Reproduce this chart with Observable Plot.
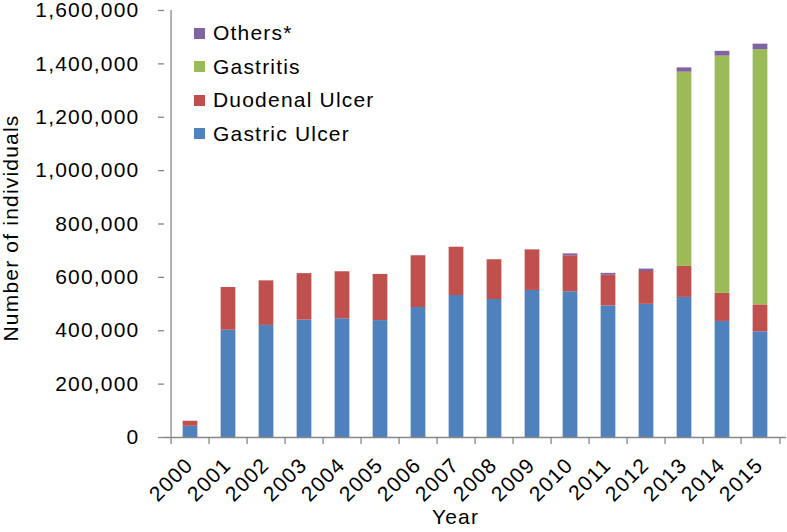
<!DOCTYPE html>
<html>
<head>
<meta charset="utf-8">
<script src="https://cdn.jsdelivr.net/npm/d3@7"></script>
<script src="https://cdn.jsdelivr.net/npm/@observablehq/plot@0.6"></script>
<style>
  body { margin: 0; background: #fff; }
  #wrap { position: relative; width: 787px; height: 532px; font-family: "Liberation Sans", Arial, sans-serif; }
  #wrap svg text { letter-spacing: 1.2px; }
  .legend { position: absolute; left: 194px; top: 0; }
  .item { position: absolute; left: 0; height: 24px; display: flex; align-items: center; white-space: nowrap;
          font-size: 21px; letter-spacing: 1.2px; color: #000; }
  .sw { width: 11px; height: 11px; margin-right: 8px; flex: none; }
</style>
</head>
<body>
<div id="wrap"></div>
<script>
// ---- data ----
const years = ["2000","2001","2002","2003","2004","2005","2006","2007","2008","2009","2010","2011","2012","2013","2014","2015"];
const seriesNames = ["Gastric Ulcer", "Duodenal Ulcer", "Gastritis", "Others*"];
const seriesColors = ["#4F81BD", "#C0504D", "#9BBB59", "#8064A2"];
const gastricUlcer  = [42000, 402000, 420000, 440000, 445000, 438000, 487000, 532000, 517000, 551000, 546000, 493000, 499000, 525000, 435000, 396000];
const duodenalUlcer = [19000, 160000, 167000, 174000, 176000, 173000, 194000, 181000, 149000, 152000, 135000, 115000, 123000, 116000, 105000, 101000];
const gastritis     = [0, 0, 0, 0, 0, 0, 0, 0, 0, 0, 0, 0, 0, 728000, 889000, 956000];
const others        = [0, 0, 0, 0, 0, 0, 0, 0, 0, 0, 7000, 7000, 9000, 16000, 18000, 21000];
const yTicks = [0, 200000, 400000, 600000, 800000, 1000000, 1200000, 1400000, 1600000];
const yTitle = "Number of individuals";
const xTitle = "Year";

const seriesValues = [gastricUlcer, duodenalUlcer, gastritis, others];
const rows = [];
years.forEach((yr, i) => {
  seriesNames.forEach((s, k) => rows.push({year: yr, series: s, value: seriesValues[k][i]}));
});

const W = 787, H = 532, mL = 164, mR = 1, mT = 10, mB = 95;
const bw = (W - mL - mR) / years.length;
const barInset = (bw - 15.6) / 2;
const axisGray = "#868686";

const chart = Plot.plot({
  width: W, height: H,
  marginLeft: mL, marginRight: mR, marginTop: mT, marginBottom: mB,
  style: { fontFamily: "Liberation Sans, Arial, sans-serif", fontSize: "21px", color: "#000", background: "#fff", overflow: "visible" },
  x: { domain: years, padding: 0, axis: null },
  y: { domain: [0, 1600000], axis: null },
  color: { domain: seriesNames, range: seriesColors },
  marks: [
    Plot.barY(rows, { x: "year", y: "value", fill: "series", insetLeft: barInset, insetRight: barInset }),
    // axis lines
    Plot.ruleY([0], { stroke: axisGray, strokeWidth: 1.3 }),
    Plot.ruleX([years[0]], { dx: -bw / 2, y1: 0, y2: 1600000, stroke: axisGray, strokeWidth: 1.3 }),
    // y axis
    Plot.axisY(yTicks, { tickSize: 6, tickPadding: 19, stroke: axisGray, strokeWidth: 1.3, label: null, fill: "#000" }),
    // x axis boundary ticks
    Plot.axisX(years, { tickSize: 7, tickFormat: () => "", dx: -bw / 2, stroke: axisGray, strokeWidth: 1.3, label: null }),
    Plot.axisX([years[years.length - 1]], { tickSize: 7, tickFormat: () => "", dx: bw / 2, stroke: axisGray, strokeWidth: 1.3, label: null }),
    // x tick labels
    Plot.axisX(years, { tickSize: 0, tickPadding: 24, tickRotate: -45, dx: -1, label: null, fill: "#000" }),
    // titles
    Plot.text([yTitle], { text: d => d, frameAnchor: "left", textAnchor: "middle", dx: -153, dy: 4, rotate: -90, fontSize: 21, fill: "#000" }),
    Plot.text([xTitle], { text: d => d, frameAnchor: "bottom", dx: -20, dy: 86, fontSize: 21, fill: "#000" })
  ]
});

const wrap = document.getElementById("wrap");
wrap.appendChild(chart);

// legend (top of stack first)
const legend = document.createElement("div");
legend.className = "legend";
const order = [3, 2, 1, 0];
const rowCenters = [33, 66.5, 100, 133.5];
order.forEach((k, j) => {
  const it = document.createElement("div");
  it.className = "item";
  it.style.top = (rowCenters[j] - 12) + "px";
  const sw = document.createElement("span");
  sw.className = "sw";
  sw.style.background = seriesColors[k];
  const tx = document.createElement("span");
  tx.textContent = seriesNames[k];
  it.appendChild(sw); it.appendChild(tx);
  legend.appendChild(it);
});
wrap.appendChild(legend);
</script>
</body>
</html>
